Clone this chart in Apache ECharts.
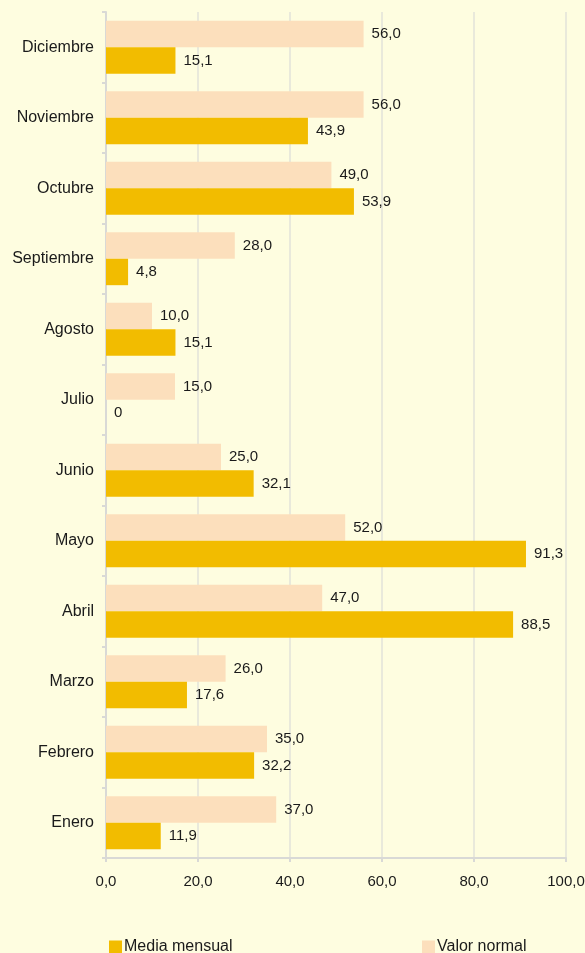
<!DOCTYPE html>
<html><head><meta charset="utf-8">
<script src="https://cdn.jsdelivr.net/npm/echarts@6/dist/echarts.min.js"></script>
<style>html,body{margin:0;padding:0;background:#FEFDE0;}#c{width:585px;height:953px;}</style>
</head><body><div id="c"></div>
<script>
const categories = ['Enero','Febrero','Marzo','Abril','Mayo','Junio','Julio','Agosto','Septiembre','Octubre','Noviembre','Diciembre'];
const mediaMensual = [11.9, 32.2, 17.6, 88.5, 91.3, 32.1, 0, 15.1, 4.8, 53.9, 43.9, 15.1];
const valorNormal = [37.0, 35.0, 26.0, 47.0, 52.0, 25.0, 15.0, 10.0, 28.0, 49.0, 56.0, 56.0];
const seriesNames = ['Media mensual', 'Valor normal'];

const fmt = v => v === 0 ? '0' : v.toFixed(1).replace('.', ',');
const chart = echarts.init(document.getElementById('c'));
const font = 'Liberation Sans, Arial, sans-serif';
const lbl = {show:true, position:'right', distance:8, color:'#1a1a1a', fontSize:15, fontFamily:font,
  formatter: p => fmt(p.value)};
chart.setOption({
  backgroundColor:'#FEFDE0',
  animation:false,
  grid:{left:106, right:19, top:12, bottom:95, containLabel:false, outerBoundsMode:'none'},
  legend:[
    {data:[seriesNames[0]], left:104, top:934, itemWidth:13, itemHeight:13, icon:'rect',
     textStyle:{fontSize:16, fontFamily:font, color:'#1a1a1a', padding:[0,0,0,-3]}},
    {data:[seriesNames[1]], left:417, top:934, itemWidth:13, itemHeight:13, icon:'rect',
     textStyle:{fontSize:16, fontFamily:font, color:'#1a1a1a', padding:[0,0,0,-3]}}
  ],
  xAxis:{type:'value', min:0, max:100, interval:20,
    axisLine:{show:true, lineStyle:{color:'#D9D9D6', width:2}},
    axisTick:{show:true, length:4, lineStyle:{color:'#D9D9D6', width:2}},
    splitLine:{show:true, lineStyle:{color:'#E2E2DA', width:1.5}},
    axisLabel:{margin:16, fontSize:15, fontFamily:font, color:'#1a1a1a', formatter: v => fmt(v).replace(/^0$/,'0,0')}},
  yAxis:{type:'category', data:categories,
    axisLine:{show:true, lineStyle:{color:'#D9D9D6', width:2}},
    axisTick:{show:true, length:4, lineStyle:{color:'#D9D9D6', width:2}},
    axisLabel:{margin:12, fontSize:16, fontFamily:font, color:'#1a1a1a'}},
  series:[
    {name:seriesNames[1], type:'bar', data:valorNormal, itemStyle:{color:'#FCDFBC'},
     barGap:'0%', barCategoryGap:'25%', label:lbl},
    {name:seriesNames[0], type:'bar', data:mediaMensual, itemStyle:{color:'#F2BC00'},
     barGap:'0%', barCategoryGap:'25%', label:lbl}
  ]
});
</script></body></html>
